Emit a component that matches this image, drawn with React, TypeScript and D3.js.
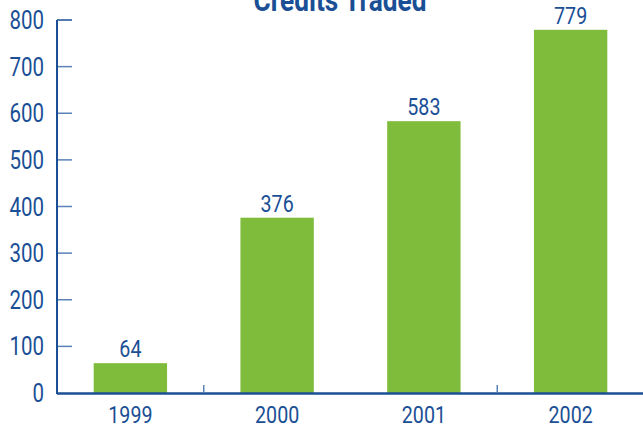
// @ts-nocheck
import { useEffect, useRef } from 'react';
import * as d3 from 'd3';

const years = ['1999', '2000', '2001', '2002'];
const credits = [64, 376, 583, 779];
const yTicks = [0, 100, 200, 300, 400, 500, 600, 700, 800];

const width = 643;
const height = 427;
const blue = '#1b4f95';
const tickBlue = '#5a82b8';
const green = '#80bc3c';
const font = 'Roboto, "Liberation Sans", sans-serif';
const squeeze = 0.82; // the source uses a condensed face

// draws text narrowed horizontally, anchored at (x, y)
const narrowText = (g, x, y, str, size, anchor = 'middle', weight = 'normal') =>
  g.append('text')
    .attr('transform', `translate(${x},${y}) scale(${squeeze},1)`)
    .attr('text-anchor', anchor)
    .attr('fill', blue)
    .attr('font-family', font)
    .attr('font-weight', weight)
    .attr('font-size', `${size}px`)
    .text(str);

export default function App() {
  const svgRef = useRef<SVGSVGElement>(null);

  useEffect(() => {
    if (!svgRef.current) return;
    const svg = d3.select(svgRef.current);
    svg.selectAll('*').remove();

    const left = 57;
    const x = d3.scaleBand().domain(years).range([left, 644]).paddingInner(0.5).paddingOuter(0.25);
    const y = d3.scaleLinear().domain([0, 800]).range([393, 20]);

    // title (cut off at the top, as in the source)
    narrowText(svg, 340, 11, 'Credits Traded', 32, 'middle', 'bold');

    // bars
    svg.append('g')
      .selectAll('rect')
      .data(credits)
      .join('rect')
      .attr('x', (d, i) => x(years[i]))
      .attr('width', x.bandwidth())
      .attr('y', (d) => y(d))
      .attr('height', (d) => y(0) - y(d))
      .attr('fill', green);

    // value labels
    credits.forEach((d, i) => {
      narrowText(svg, x(years[i]) + x.bandwidth() / 2, y(d) - 6, d, 24);
    });

    // y ticks
    const yg = svg.append('g');
    yTicks.forEach((t) => {
      if (t > 0) {
        yg.append('line')
          .attr('x1', left)
          .attr('x2', left + 15)
          .attr('y1', y(t))
          .attr('y2', y(t))
          .attr('stroke', t === 800 ? blue : tickBlue)
          .attr('stroke-width', 1.5);
      }
      narrowText(yg, 44, y(t) + 9, t, 25, 'end');
    });

    // axis lines
    svg.append('line')
      .attr('x1', left)
      .attr('x2', left)
      .attr('y1', y(800))
      .attr('y2', y(0) + 1)
      .attr('stroke', blue)
      .attr('stroke-width', 2);
    svg.append('line')
      .attr('x1', left)
      .attr('x2', width)
      .attr('y1', y(0) + 0.5)
      .attr('y2', y(0) + 0.5)
      .attr('stroke', blue)
      .attr('stroke-width', 2.5);

    // category separators (source shows them between 1999/2000 and 2001/2002)
    const step = x.step();
    years.slice(1).forEach((yr, i) => {
      if (i === 1) return;
      const sx = x(yr) - (x.paddingInner() * step) / 2;
      svg.append('line')
        .attr('x1', sx)
        .attr('x2', sx)
        .attr('y1', y(0))
        .attr('y2', y(0) - 8)
        .attr('stroke', tickBlue)
        .attr('stroke-width', 1.5);
    });

    // year labels
    years.forEach((d) => {
      narrowText(svg, x(d) + x.bandwidth() / 2, 423, d, 24);
    });
  }, []);

  return (
    <svg
      ref={svgRef}
      width={width}
      height={height}
      style={{ position: 'absolute', left: 0, top: 0, background: '#fff' }}
    />
  );
}
